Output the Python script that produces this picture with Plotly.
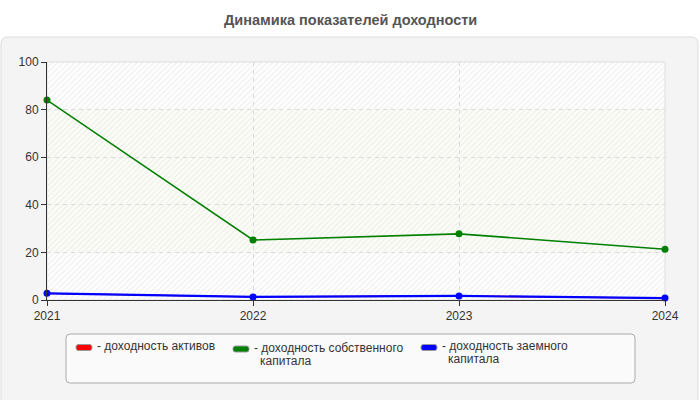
import plotly.graph_objects as go

# data
years = [2021, 2022, 2023, 2024]
roa = [2.8, 1.3, 1.7, 0.8]          # доходность активов (hidden under the blue line)
roe = [84.0, 25.2, 27.8, 21.3]      # доходность собственного капитала
rod = [2.8, 1.3, 1.7, 0.8]          # доходность заемного капитала
series_names = ["доходность активов", "доходность собственного капитала", "доходность заемного капитала"]
legend_lines = [["доходность активов"], ["доходность собственного", "капитала"], ["доходность заемного", "капитала"]]
colors = ["#ff0000", "#008000", "#0000ff"]
y_ticks = [0, 20, 40, 60, 80, 100]
title = "Динамика показателей доходности"

FONT = "Liberation Sans, Arial, sans-serif"

# pixel frame of the plot area (700x400 page)
L, R, T, B = 47, 665, 62, 300
W, H = R - L, B - T


def px(x):
    return (x - L) / W


def py(y):
    return (B - y) / H


def rounded_path(x0, y0, x1, y1, r):
    # rounded rectangle in paper coords, r in pixels
    pts = [
        f"M {px(x0 + r)} {py(y0)}",
        f"L {px(x1 - r)} {py(y0)}",
        f"Q {px(x1)} {py(y0)} {px(x1)} {py(y0 + r)}",
        f"L {px(x1)} {py(y1 - r)}",
        f"Q {px(x1)} {py(y1)} {px(x1 - r)} {py(y1)}",
        f"L {px(x0 + r)} {py(y1)}",
        f"Q {px(x0)} {py(y1)} {px(x0)} {py(y1 - r)}",
        f"L {px(x0)} {py(y0 + r)}",
        f"Q {px(x0)} {py(y0)} {px(x0 + r)} {py(y0)}",
        "Z",
    ]
    return " ".join(pts)


fig = go.Figure()

# hatched plot background
fig.add_trace(
    go.Scatter(
        x=[years[0], years[-1], years[-1], years[0], years[0]],
        y=[y_ticks[0], y_ticks[0], y_ticks[-1], y_ticks[-1], y_ticks[0]],
        mode="none",
        fill="toself",
        fillcolor="rgba(0,0,0,0)",
        fillpattern=dict(shape="/", fgcolor="#e2e2e2", bgcolor="rgba(0,0,0,0)", size=4, solidity=0.35),
        hoverinfo="skip",
        showlegend=False,
    )
)

# red sits under the blue line, so keep it a bit thinner
for name, vals, col, lw, ms in zip(series_names, [roa, roe, rod], colors, [1.4, 1.6, 2.2], [5, 7, 7]):
    fig.add_trace(
        go.Scatter(
            x=years,
            y=vals,
            name=name,
            mode="lines+markers",
            line=dict(color=col, width=lw),
            marker=dict(color=col, size=ms),
            cliponaxis=False,
            showlegend=False,
        )
    )

shapes = [
    # outer gray panel
    dict(type="path", xref="paper", yref="paper", path=rounded_path(1, 37, 698, 410, 7),
         fillcolor="#f4f4f4", line=dict(color="#dddddd", width=1), layer="below"),
    # plot area
    dict(type="rect", xref="paper", yref="paper", x0=0, x1=1, y0=0, y1=1,
         fillcolor="#ffffff", line=dict(width=0), layer="below"),
    # pale band 20..80
    dict(type="rect", xref="paper", yref="y", x0=0, x1=1, y0=20, y1=80,
         fillcolor="#fcfdf6", line=dict(width=0), layer="below"),
    # light border of plot area
    dict(type="rect", xref="paper", yref="paper", x0=0, x1=1, y0=0, y1=1,
         fillcolor="rgba(0,0,0,0)", line=dict(color="#dddddd", width=1), layer="below"),
    # legend box
    dict(type="path", xref="paper", yref="paper", path=rounded_path(66, 334, 635, 383, 4),
         fillcolor="#fafafa", line=dict(color="#aaaaaa", width=1), layer="above"),
]

annotations = [
    dict(text=f"<b>{title}</b>", x=px(350), y=py(20), xref="paper", yref="paper",
         showarrow=False, xanchor="center", yanchor="middle",
         font=dict(family=FONT, size=14.5, color="#555555")),
]

# custom legend
sw_x = [76, 233, 421]
sw_y = [344.5, 346, 344.5]
for lines, col, sx, sy in zip(legend_lines, colors, sw_x, sw_y):
    shapes.append(
        dict(type="path", xref="paper", yref="paper", path=rounded_path(sx, sy, sx + 16, sy + 6, 2.5),
             fillcolor=col, line=dict(color="#999999", width=1), layer="above")
    )
    for i, ln in enumerate(lines):
        annotations.append(
            dict(text=("- " if i == 0 else "") + ln,
                 x=px(sx + (19 if i == 0 else 25)), y=py(sy + 3.5 + i * 11 - (2 if i == 0 else 0)),
                 xref="paper", yref="paper", showarrow=False,
                 xanchor="left", yanchor="middle", align="left",
                 font=dict(family=FONT, size=12, color="#333333"))
        )

fig.update_layout(
    width=700,
    height=400,
    margin=dict(l=L, r=700 - R, t=T, b=400 - B),
    paper_bgcolor="#ffffff",
    plot_bgcolor="rgba(0,0,0,0)",
    showlegend=False,
    shapes=shapes,
    annotations=annotations,
    font=dict(family=FONT, size=12, color="#333333"),
    xaxis=dict(
        range=[years[0], years[-1]],
        tickvals=years,
        ticktext=[str(y) for y in years],
        showgrid=True,
        gridcolor="#d8d8d8",
        griddash="4px,4px",
        gridwidth=1,
        showline=True,
        linecolor="#333333",
        linewidth=1,
        ticks="outside",
        ticklen=5,
        tickcolor="#333333",
        zeroline=False,
        tickfont=dict(family=FONT, size=12, color="#333333"),
    ),
    yaxis=dict(
        range=[y_ticks[0], y_ticks[-1]],
        tickvals=y_ticks,
        showgrid=True,
        gridcolor="#d8d8d8",
        griddash="4px,4px",
        gridwidth=1,
        showline=True,
        linecolor="#333333",
        linewidth=1,
        ticks="outside",
        ticklen=5,
        tickcolor="#333333",
        zeroline=False,
        tickfont=dict(family=FONT, size=12, color="#333333"),
    ),
)

# drop the default 8px page margin so the figure sits at the window corner
fig.write_html(
    "out.html",
    config={"displayModeBar": False},
    post_script="document.body.style.margin='0';",
)
